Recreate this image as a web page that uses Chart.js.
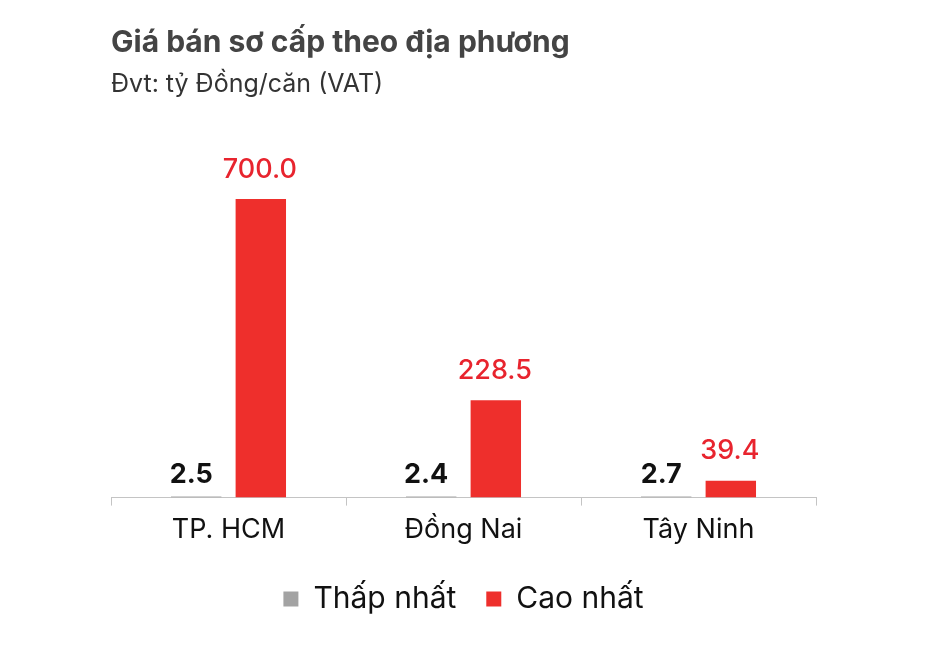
<!DOCTYPE html>
<html>
<head>
<meta charset="utf-8">
<script src="https://cdn.jsdelivr.net/npm/chart.js@4.4.1/dist/chart.umd.min.js"></script>
<style>
  html, body { margin: 0; padding: 0; background: #fff; }
  #wrap { width: 940px; height: 654px; }
</style>
</head>
<body>
<div id="wrap"><canvas id="barChart" width="940" height="654"></canvas></div>
<script>
var categories = ['TP. HCM', 'Đồng Nai', 'Tây Ninh'];
var lowValues = [2.5, 2.4, 2.7];
var highValues = [700.0, 228.5, 39.4];
var seriesNames = ['Thấp nhất', 'Cao nhất'];

var FONT = 'Inter, "Noto Sans", sans-serif';

// draws the number above each bar
var valueLabels = {
    id: 'valueLabels',
    afterDatasetsDraw: function(chart) {
        var ctx = chart.ctx;
        ctx.save();
        ctx.textAlign = 'center';
        ctx.textBaseline = 'bottom';
        chart.data.datasets.forEach(function(ds, i) {
            var meta = chart.getDatasetMeta(i);
            meta.data.forEach(function(bar, j) {
                var txt = ds.data[j].toFixed(1);
                if (i == 0) {
                    ctx.font = 'bold 27px ' + FONT;
                    ctx.fillStyle = '#111111';
                    ctx.fillText(txt, bar.x - 5, bar.y - 8);
                } else {
                    ctx.font = '500 27px ' + FONT;
                    ctx.fillStyle = '#e8242e';
                    ctx.fillText(txt, bar.x - 1, bar.y - 16);
                }
            });
        });
        ctx.restore();
    }
};

var ctx = document.getElementById('barChart').getContext('2d');
var myChart = new Chart(ctx, {
    type: 'bar',
    data: {
        labels: categories,
        datasets: [{
            label: seriesNames[0],
            data: lowValues,
            backgroundColor: '#a3a3a3',
            categoryPercentage: 0.55,
            barPercentage: 0.78
        }, {
            label: seriesNames[1],
            data: highValues,
            backgroundColor: '#ee2f2c',
            categoryPercentage: 0.55,
            barPercentage: 0.78
        }]
    },
    plugins: [valueLabels],
    options: {
        responsive: false,
        animation: false,
        layout: {
            padding: { top: 25, left: 111, right: 124, bottom: 30 }
        },
        scales: {
            x: {
                grid: {
                    display: true,
                    drawOnChartArea: false,
                    drawTicks: true,
                    tickLength: 8,
                    color: '#c4c4c4',
                    offset: true
                },
                border: { display: true, color: '#c4c4c4', width: 1 },
                ticks: {
                    color: '#111111',
                    font: { family: FONT, size: 27 },
                    padding: 8
                }
            },
            y: {
                display: false,
                min: 0,
                max: 700
            }
        },
        plugins: {
            title: {
                display: true,
                text: 'Giá bán sơ cấp theo địa phương',
                align: 'start',
                color: '#444444',
                font: { family: FONT, size: 30, weight: 'bold' },
                padding: { top: 0, bottom: 8 }
            },
            subtitle: {
                display: true,
                text: 'Đvt: tỷ Đồng/căn (VAT)',
                align: 'start',
                color: '#333333',
                font: { family: FONT, size: 25 },
                padding: { top: 0, bottom: 100 }
            },
            legend: {
                position: 'bottom',
                labels: {
                    color: '#111111',
                    boxWidth: 15,
                    boxHeight: 15,
                    padding: 30,
                    font: { family: FONT, size: 30 }
                }
            },
            tooltip: { enabled: false }
        }
    }
});
</script>
</body>
</html>
